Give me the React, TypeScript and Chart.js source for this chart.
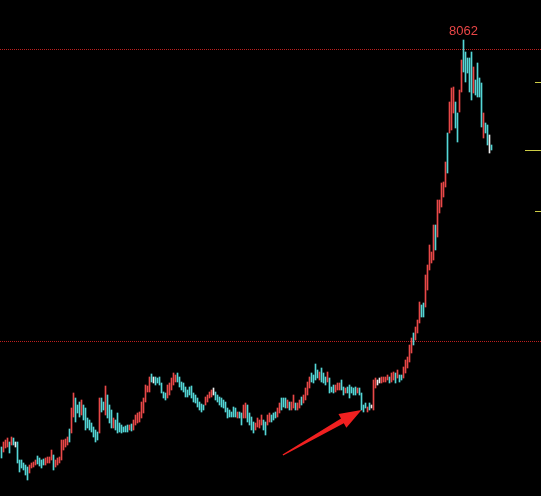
import React, { useEffect, useRef } from "react";
import { Chart, registerables } from "chart.js";

Chart.register(...registerables);

const highs: number[] = [
  3992, 4042, 4062, 4082, 4042, 4092, 4082, 4042, 4042, 3862,
  3862, 3832, 3812, 3792, 3812, 3832, 3842, 3862, 3902, 3882,
  3862, 3872, 3882, 3892, 3892, 3962, 3912, 3862, 3882, 3892,
  4062, 4062, 4072, 4092, 4172, 4382, 4532, 4482, 4412, 4442,
  4462, 4412, 4382, 4282, 4262, 4232, 4192, 4162, 4142,
  4482, 4482, 4442, 4602, 4512, 4412, 4362, 4282, 4262, 4332,
  4232, 4212, 4192, 4202, 4212, 4212, 4222, 4262, 4312, 4332,
  4342, 4442, 4482, 4612, 4602, 4692, 4722, 4692, 4692, 4682,
  4692, 4632, 4542, 4532, 4612, 4632, 4682, 4732, 4712, 4732,
  4692, 4642, 4632, 4592, 4562, 4592, 4602, 4532, 4512, 4482,
  4442, 4422, 4412, 4492, 4512, 4542, 4562, 4582, 4542, 4512,
  4492, 4482, 4462, 4442, 4382, 4362, 4342, 4392, 4382, 4342,
  4342, 4332, 4412, 4432, 4412, 4332, 4292, 4242, 4232, 4282,
  4262, 4312, 4262, 4242, 4312, 4332, 4312, 4332, 4342, 4382,
  4432, 4482, 4482, 4482, 4462, 4442, 4442, 4512, 4432, 4432,
  4462, 4492, 4512, 4582, 4642, 4692, 4732, 4712, 4822, 4762,
  4742, 4782, 4732, 4692, 4742, 4682, 4592, 4612, 4612, 4632,
  4632, 4662, 4592, 4582, 4592, 4612, 4592, 4582, 4592, 4582,
  4582, 4532, 4412, 4432, 4392, 4432, 4412, 4662, 4682, 4662,
  4682, 4692, 4692, 4692, 4712, 4692, 4732, 4742, 4732, 4762,
  4712, 4712, 4792, 4862, 4892, 5012, 5082, 5132, 5192, 5262,
  5442, 5412, 5432, 5712, 5812, 6012, 5942, 6212, 6212, 6462,
  6462, 6632, 6642, 6842, 7132, 7442, 7582, 7592, 7442, 7332,
  7562, 7862, 8062, 7942, 7882, 7882, 7942, 7792, 7662, 7832,
  7682, 7632, 7332, 7232, 7212, 7112, 7012,
];

const lows: number[] = [
  3882, 3942, 3982, 3992, 3932, 4012, 4012, 3992, 3832, 3742,
  3782, 3762, 3712, 3662, 3732, 3782, 3792, 3812, 3822, 3802,
  3782, 3812, 3812, 3832, 3832, 3862, 3762, 3792, 3812, 3832,
  3862, 3962, 3992, 4012, 4042, 4132, 4292, 4242, 4332, 4292,
  4312, 4262, 4162, 4182, 4162, 4142, 4092, 4042, 4062,
  4132, 4342, 4362, 4312, 4282, 4232, 4182, 4182, 4162, 4132,
  4142, 4132, 4142, 4142, 4142, 4162, 4152, 4162, 4212, 4232,
  4242, 4282, 4332, 4442, 4542, 4542, 4642, 4632, 4612, 4632,
  4612, 4532, 4482, 4462, 4482, 4512, 4562, 4612, 4642, 4642,
  4592, 4562, 4542, 4492, 4492, 4512, 4482, 4442, 4432, 4392,
  4362, 4342, 4362, 4412, 4442, 4482, 4492, 4512, 4462, 4442,
  4412, 4392, 4382, 4342, 4282, 4292, 4292, 4292, 4292, 4282,
  4282, 4212, 4282, 4282, 4242, 4212, 4162, 4132, 4162, 4192,
  4182, 4212, 4162, 4112, 4212, 4242, 4242, 4262, 4282, 4292,
  4332, 4362, 4392, 4382, 4382, 4362, 4362, 4382, 4362, 4362,
  4382, 4412, 4432, 4462, 4512, 4582, 4642, 4632, 4662, 4682,
  4662, 4642, 4632, 4612, 4642, 4532, 4542, 4532, 4542, 4562,
  4562, 4562, 4512, 4532, 4532, 4482, 4532, 4512, 4512, 4532,
  4512, 4362, 4342, 4382, 4342, 4362, 4382, 4362, 4582, 4612,
  4632, 4632, 4642, 4642, 4662, 4632, 4642, 4662, 4632, 4682,
  4642, 4662, 4682, 4732, 4782, 4842, 4932, 5012, 5062, 5132,
  5232, 5292, 5292, 5392, 5562, 5762, 5832, 5862, 5962, 6092,
  6332, 6392, 6492, 6592, 6732, 7132, 7162, 7332, 7182, 7042,
  7342, 7542, 7742, 7642, 7732, 7542, 7462, 7532, 7512, 7492,
  7492, 7192, 7082, 7132, 7012, 6932, 6962,
];

// u = close above open (red), d = close below open (cyan), f = unchanged (white)
const moves = [
  "duuududfdd", "dddduuuudd", "dduuuuduuu", "uuuuduuddd", "udddddddd",
  "uddudddudd", "ddddduduuu", "uuuuuudfdd", "dddduuuuud", "dddddddddd",
  "ddduuuufdd", "dddddddddu", "dduudddduu", "uudduudddu", "uddduduudu",
  "uduuuudddd", "uddduddduu", "uddudddddu", "ddddudfuuf", "fuuuuduudu",
  "dduuuuuduu", "udduuuuudu", "uuuuduuudd", "uudddddudd", "dduddfd",
].join("");

const guideLevels = [7972, 5052];
const rightMarks = [7642, 6962, 6352];
const arrowFrom = { x: 140.7, y: 3912 };
const arrowTo = { x: 180, y: 4362 };

const UP = "rgb(232,72,72)";
const DOWN = "rgb(84,214,214)";
const FLAT = "rgb(236,236,236)";

export default function App() {
  const ref = useRef<HTMLCanvasElement>(null);

  useEffect(() => {
    const canvas = ref.current!;
    const data = highs.map((h, i) => ({ x: i, y: [lows[i], h] }));
    const colors = highs.map((_, i) =>
      moves[i] === "u" ? UP : moves[i] === "d" ? DOWN : FLAT
    );

    const overlay = {
      id: "overlay",
      beforeDatasetsDraw(chart: any) {
        const { ctx, chartArea, scales } = chart;
        ctx.save();
        ctx.strokeStyle = "rgb(190,30,30)";
        ctx.lineWidth = 1;
        ctx.setLineDash([1, 1]);
        guideLevels.forEach((v) => {
          const py = Math.round(scales.y.getPixelForValue(v)) + 0.5;
          ctx.beginPath();
          ctx.moveTo(chartArea.left, py);
          ctx.lineTo(chartArea.right, py);
          ctx.stroke();
        });
        ctx.restore();
      },
      afterDatasetsDraw(chart: any) {
        const { ctx, chartArea, scales } = chart;
        const xs = scales.x;
        const ys = scales.y;
        ctx.save();
        // right-side marks
        const lens = [6, 16, 6];
        ctx.strokeStyle = "rgb(205,205,70)";
        ctx.lineWidth = 1;
        rightMarks.forEach((v, k) => {
          const py = Math.round(ys.getPixelForValue(v)) + 0.5;
          ctx.beginPath();
          ctx.moveTo(chartArea.right - lens[k], py);
          ctx.lineTo(chartArea.right, py);
          ctx.stroke();
        });
        // max label
        let mi = 0;
        highs.forEach((h, i) => {
          if (h > highs[mi]) mi = i;
        });
        ctx.fillStyle = "rgb(232,70,70)";
        ctx.font = '13px "Liberation Sans", Arial, sans-serif';
        ctx.textAlign = "center";
        ctx.textBaseline = "bottom";
        ctx.fillText(
          String(highs[mi]),
          xs.getPixelForValue(mi),
          ys.getPixelForValue(highs[mi]) - 2
        );
        // arrow
        const tx = xs.getPixelForValue(arrowFrom.x);
        const ty = ys.getPixelForValue(arrowFrom.y);
        const hx = xs.getPixelForValue(arrowTo.x);
        const hy = ys.getPixelForValue(arrowTo.y);
        const dx = hx - tx;
        const dy = hy - ty;
        const len = Math.hypot(dx, dy);
        const ux = dx / len;
        const uy = dy / len;
        const nx = -uy;
        const ny = ux;
        const headLen = 22;
        const headW = 8;
        const bx = hx - ux * headLen;
        const by = hy - uy * headLen;
        ctx.fillStyle = "rgb(240,32,32)";
        ctx.beginPath();
        ctx.moveTo(tx + nx * 0.7, ty + ny * 0.7);
        ctx.lineTo(bx + nx * 2.8, by + ny * 2.8);
        ctx.lineTo(bx + nx * headW, by + ny * headW);
        ctx.lineTo(hx, hy);
        ctx.lineTo(bx - nx * headW, by - ny * headW);
        ctx.lineTo(bx - nx * 2.8, by - ny * 2.8);
        ctx.lineTo(tx - nx * 0.7, ty - ny * 0.7);
        ctx.closePath();
        ctx.fill();
        ctx.restore();
      },
    };

    const chart = new Chart(canvas, {
      type: "bar",
      data: {
        datasets: [
          {
            data: data as any,
            backgroundColor: colors,
            borderWidth: 0,
            barThickness: 1,
            minBarLength: 2,
          },
        ],
      },
      options: {
        animation: false,
        responsive: false,
        maintainAspectRatio: false,
        layout: { padding: 0 },
        plugins: { legend: { display: false }, tooltip: { enabled: false } },
        scales: {
          x: { type: "linear", display: false, min: -0.75, max: 269.75, offset: false },
          y: { display: false, min: 3502, max: 8462, beginAtZero: false },
        },
      },
      plugins: [overlay],
    });
    return () => chart.destroy();
  }, []);

  return (
    <div
      style={{
        position: "fixed",
        left: 0,
        top: 0,
        width: 541,
        height: 496,
        background: "#000",
      }}
    >
      <canvas ref={ref} width={541} height={496} style={{ display: "block" }} />
    </div>
  );
}
